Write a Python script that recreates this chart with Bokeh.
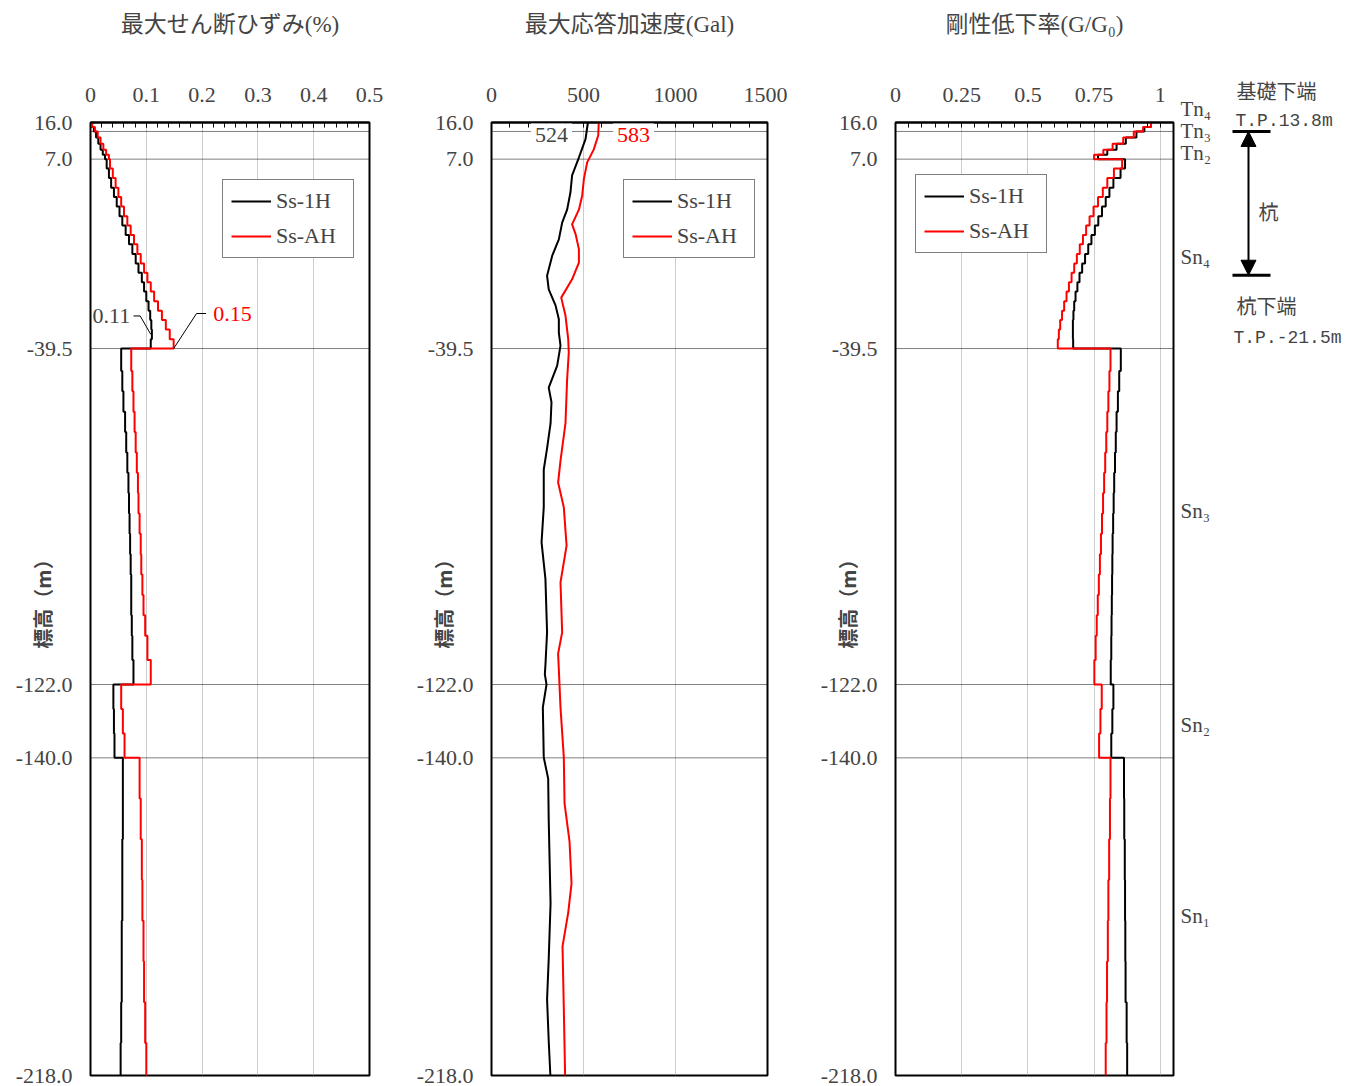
import numpy as np
from bokeh.plotting import figure
from bokeh.layouts import row
from bokeh.models import (Range1d, FixedTicker, CustomJSTickFormatter, Span, Label,
                          Arrow, NormalHead)
from bokeh.embed import file_html
from bokeh.resources import INLINE

# ---------------- data ----------------
# layer boundaries (elevation T.P. m), top -> bottom
layer_bounds = [16.0, 14.9, 13.8, 12.3, 10.8, 9.3, 8.1, 7.0,
                4.7, 2.4, 0.0, -2.3, -4.6, -7.0, -9.3, -11.6, -13.9, -16.3, -18.6,
                -20.9, -23.2, -25.5, -27.9, -30.2, -32.5, -34.8, -37.2, -39.5,
                -45.0, -50.0, -55.0, -60.0, -65.0, -70.0, -75.0, -80.0, -85.0, -90.0,
                -95.0, -100.0, -105.0, -110.0, -116.0, -122.0,
                -128.0, -134.0, -140.0,
                -150.0, -160.0, -170.0, -180.0, -190.0, -200.0, -210.0, -218.0]

# max shear strain (%) per layer
strain_1H = [0.002, 0.006, 0.010, 0.014, 0.018, 0.022, 0.026,
             0.029, 0.033, 0.037, 0.042, 0.047, 0.052, 0.057, 0.063, 0.069, 0.075,
             0.081, 0.086, 0.092, 0.096, 0.100, 0.104, 0.107, 0.109, 0.110, 0.108,
             0.055, 0.057, 0.059, 0.062, 0.064, 0.066, 0.068, 0.069, 0.070, 0.071,
             0.072, 0.073, 0.073, 0.074, 0.075, 0.077,
             0.041, 0.042, 0.043,
             0.058, 0.058, 0.057, 0.057, 0.056, 0.056, 0.055, 0.054]
strain_AH = [0.003, 0.008, 0.013, 0.018, 0.023, 0.028, 0.033,
             0.035, 0.040, 0.045, 0.050, 0.055, 0.060, 0.066, 0.072, 0.078, 0.084,
             0.090, 0.096, 0.102, 0.108, 0.114, 0.121, 0.128, 0.135, 0.142, 0.149,
             0.073, 0.075, 0.077, 0.079, 0.081, 0.083, 0.085, 0.086, 0.088, 0.090,
             0.091, 0.093, 0.095, 0.098, 0.102, 0.108,
             0.055, 0.058, 0.061,
             0.088, 0.090, 0.092, 0.093, 0.095, 0.096, 0.098, 0.100]

# stiffness reduction ratio G/G0 per layer
gg_1H = [0.965, 0.940, 0.910, 0.870, 0.835, 0.800, 0.765,
         0.867, 0.850, 0.823, 0.808, 0.794, 0.780, 0.766, 0.753, 0.740, 0.728,
         0.716, 0.705, 0.695, 0.687, 0.680, 0.675, 0.672, 0.670, 0.670, 0.671,
         0.851, 0.845, 0.840, 0.835, 0.832, 0.829, 0.826, 0.824, 0.822, 0.820,
         0.819, 0.818, 0.817, 0.816, 0.815, 0.813,
         0.823, 0.819, 0.815,
         0.863, 0.864, 0.866, 0.867, 0.868, 0.869, 0.873, 0.875]
gg_AH = [0.965, 0.935, 0.900, 0.860, 0.820, 0.785, 0.750,
         0.856, 0.825, 0.800, 0.783, 0.765, 0.748, 0.733, 0.720, 0.708, 0.696,
         0.685, 0.675, 0.665, 0.655, 0.646, 0.637, 0.629, 0.622, 0.617, 0.613,
         0.812, 0.808, 0.804, 0.800, 0.796, 0.792, 0.788, 0.784, 0.780, 0.776,
         0.772, 0.768, 0.764, 0.760, 0.756, 0.751,
         0.779, 0.774, 0.769,
         0.812, 0.810, 0.807, 0.804, 0.802, 0.799, 0.797, 0.794]

# max response acceleration (Gal) at nodes
acc_elev_1H = [16.0, 11.9, 7.4, 3.0, -1.2, -5.4, -8.6, -12.7, -16.7, -21.6, -25.0, -28.9,
               -32.3, -35.6, -38.8, -43.7, -49.1, -52.7, -57.9, -64.0, -69.2, -78.5, -87.1,
               -96.0, -109.2, -117.3, -119.5, -122.0, -127.6, -139.9, -145.1, -155.4,
               -175.7, -189.3, -199.3, -209.6, -218.0]
acc_1H = [524, 511, 475, 438, 429, 411, 384, 366, 330, 302, 311, 348,
          366, 366, 375, 357, 311, 326, 321, 302, 284, 284, 272,
          293, 302, 293, 290, 299, 279, 284, 308, 311,
          321, 311, 302, 311, 320]
acc_elev_AH = [16.0, 12.8, 9.4, 6.2, 2.1, -1.9, -5.4, -9.0, -11.4, -15.1, -18.4, -22.5,
               -27.0, -31.4, -37.2, -40.5, -47.0, -57.9, -67.0, -72.4, -78.5, -87.9, -96.9,
               -109.2, -114.4, -127.6, -139.9, -151.2, -160.5, -170.8, -178.0, -186.3,
               -201.5, -218.0]
acc_AH = [583, 580, 556, 520, 502, 493, 475, 438, 457, 475, 475, 438,
          379, 402, 417, 420, 411, 402, 375, 362, 393, 408, 375,
          384, 362, 375, 393, 397, 424, 435, 417, 386,
          393, 400]

series_names = ["Ss-1H", "Ss-AH"]
boundary_lines = [13.8, 7.0, -39.5, -122.0, -140.0]
ytick_vals = [16.0, 7.0, -39.5, -122.0, -140.0, -218.0]
titles = ["最大せん断ひずみ(%)", "最大応答加速度(Gal)", "剛性低下率(G/G₀)"]
ylabel = "標高（m）"
layer_names = ["Tn₄", "Tn₃", "Tn₂", "Sn₄", "Sn₃", "Sn₂", "Sn₁"]
layer_label_elev = [19.4, 14.0, 8.4, -17.1, -79.5, -132.0, -178.9]
pile_top, pile_bottom = 13.8, -21.5

# ---------------- styling ----------------
FONT = "Liberation Serif"
JFONT = "'Liberation Serif', 'Noto Sans CJK JP'"
CJK = "Noto Sans CJK JP"
FS = "22px"
Y0, Y1 = -218.0, 16.0
FRAME_H = 953
TOP = 122
BOT = 11
PX_PER_M = FRAME_H / (Y1 - Y0)


def steps(vals):
    xs, ys = [], []
    for i, v in enumerate(vals):
        xs += [v, v]
        ys += [layer_bounds[i], layer_bounds[i + 1]]
    return xs, ys


def make_panel(xmax, major, minor, left, right, fw, title):
    p = figure(x_range=Range1d(0, xmax), y_range=Range1d(Y0, Y1),
               x_axis_location="above", y_axis_location="left",
               frame_width=fw, frame_height=FRAME_H,
               min_border_left=left, min_border_right=right,
               min_border_top=TOP, min_border_bottom=BOT,
               toolbar_location=None, output_backend="svg",
               background_fill_color="white", border_fill_color="white")
    p.outline_line_color = "black"
    p.outline_line_width = 2
    # top axis
    ax = p.xaxis[0]
    ax.ticker = FixedTicker(ticks=major, minor_ticks=minor)
    ax.formatter = CustomJSTickFormatter(code="return String(Math.round(tick*1000)/1000);")
    ax.major_tick_in = 5
    ax.major_tick_out = 0
    ax.minor_tick_in = 5
    ax.minor_tick_out = 0
    ax.axis_line_width = 2
    ax.major_label_text_font = FONT
    ax.major_label_text_font_size = FS
    ax.major_label_standoff = 21
    ax.axis_label = title
    ax.axis_label_text_font = JFONT
    ax.axis_label_text_font_size = "23px"
    ax.axis_label_text_font_style = "normal"
    ax.axis_label_standoff = 48
    # left axis (elevation)
    yax = p.yaxis[0]
    yax.ticker = FixedTicker(ticks=ytick_vals, minor_ticks=[])
    yax.formatter = CustomJSTickFormatter(code="return tick.toFixed(1);")
    yax.axis_line_color = None
    yax.major_tick_line_color = None
    yax.minor_tick_line_color = None
    yax.major_tick_in = 0
    yax.major_tick_out = 0
    yax.major_label_standoff = 18
    yax.major_label_text_font = FONT
    yax.major_label_text_font_size = FS
    yax.axis_label = ylabel
    yax.axis_label_text_font = CJK
    yax.axis_label_text_font_size = "20px"
    yax.axis_label_text_font_style = "bold"
    yax.axis_label_standoff = -44
    # grids
    p.xgrid.ticker = FixedTicker(ticks=major)
    p.xgrid.grid_line_color = "#9a9a9a"
    p.xgrid.grid_line_dash = "1 1"
    p.ygrid.visible = False
    for e in boundary_lines:
        p.add_layout(Span(location=e, dimension="width", line_color="black",
                          line_width=1, line_dash="1 1", level="underlay"))
    return p


def style_legend(p, loc):
    lg = p.legend[0]
    lg.location = loc
    lg.margin = 0
    lg.padding = 8
    lg.spacing = 9
    lg.glyph_width = 40
    lg.glyph_height = 20
    lg.label_height = 20
    lg.label_width = 69
    lg.label_standoff = 5
    lg.label_text_font = FONT
    lg.label_text_font_size = FS
    lg.border_line_color = "black"
    lg.border_line_width = 1
    lg.background_fill_alpha = 1.0


# ---- panel 1: shear strain ----
p1 = make_panel(0.5, [0, 0.1, 0.2, 0.3, 0.4, 0.5],
                [round(v, 2) for v in np.arange(0.02, 0.5, 0.02)],
                90, 20, 279, titles[0])
x, y = steps(strain_1H)
p1.line(x, y, line_color="black", line_width=2, legend_label=series_names[0])
x, y = steps(strain_AH)
p1.line(x, y, line_color="red", line_width=2, legend_label=series_names[1])
style_legend(p1, (132, 817))

m1 = max(strain_1H)
i1 = strain_1H.index(m1)
e1 = (layer_bounds[i1] + layer_bounds[i1 + 1]) / 2
p1.line([m1 - 0.033, m1 - 0.021, m1 - 0.002], [e1 + 4.5, e1 + 4.5, e1],
        line_color="black", line_width=1)
p1.add_layout(Label(x=0, x_offset=2, y=e1 + 4.5, text=f"{m1:.2f}", text_align="left",
                    text_baseline="middle", text_font=FONT, text_font_size=FS))
m2 = max(strain_AH)
i2 = strain_AH.index(m2)
e2 = layer_bounds[i2 + 1]
p1.line([m2, m2 + 0.041, m2 + 0.058], [e2, e2 + 8.6, e2 + 8.6], line_color="black", line_width=1)
p1.add_layout(Label(x=m2 + 0.071, y=e2 + 8.6, text=f"{m2:.2f}", text_align="left",
                    text_baseline="middle", text_font=FONT, text_font_size=FS,
                    text_color="red"))

# ---- panel 2: acceleration ----
p2 = make_panel(1500, [0, 500, 1000, 1500],
                [v for v in range(100, 1500, 100) if v % 500],
                102, 20, 276, titles[1])
p2.line(acc_1H, acc_elev_1H, line_color="black", line_width=2, legend_label=series_names[0])
p2.line(acc_AH, acc_elev_AH, line_color="red", line_width=2, legend_label=series_names[1])
style_legend(p2, (132, 817))
p2.add_layout(Label(x=acc_1H[0] - 198, y=acc_elev_1H[0], y_offset=-1, text=str(acc_1H[0]),
                    text_align="center", text_baseline="top", text_font=FONT,
                    text_font_size=FS, background_fill_color="white", padding=4))
p2.add_layout(Label(x=acc_AH[0] + 189, y=acc_elev_AH[0], y_offset=-1, text=str(acc_AH[0]),
                    text_align="center", text_baseline="top", text_font=FONT,
                    text_font_size=FS, text_color="red", background_fill_color="white",
                    padding=4))

# ---- panel 3: G/G0 ----
p3 = make_panel(1.05, [0, 0.25, 0.5, 0.75, 1],
                [round(v, 2) for v in np.arange(0.05, 1.06, 0.05)
                 if round(v, 2) not in (0.25, 0.5, 0.75, 1.0)],
                108, 2, 278, titles[2])
x, y = steps(gg_1H)
p3.line(x, y, line_color="black", line_width=2, legend_label=series_names[0])
x, y = steps(gg_AH)
p3.line(x, y, line_color="red", line_width=2, legend_label=series_names[1])
style_legend(p3, (20, 822))

# ---- panel 4: layer / pile annotation (frame covers the whole height) ----
p4 = figure(x_range=Range1d(0, 171),
            y_range=Range1d(Y0 - BOT / PX_PER_M, Y1 + TOP / PX_PER_M),
            frame_width=171, frame_height=TOP + FRAME_H + BOT,
            min_border_left=0, min_border_right=0, min_border_top=0, min_border_bottom=0,
            x_axis_location=None, y_axis_location=None,
            toolbar_location=None, output_backend="svg")
p4.frame_align = False
p4.outline_line_color = None
p4.grid.visible = False
for t, e in zip(layer_names, layer_label_elev):
    p4.add_layout(Label(x=5, y=e, text=t, text_align="left", text_baseline="middle",
                        text_font="'Liberation Serif', 'DejaVu Serif'", text_font_size="21px"))
p4.segment(x0=[57, 57], y0=[pile_top, pile_bottom], x1=[95, 95], y1=[pile_top, pile_bottom],
           line_color="black", line_width=3)
p4.add_layout(Arrow(x_start=73, y_start=pile_top, x_end=73, y_end=pile_bottom,
                    line_width=2, line_color="black",
                    start=NormalHead(size=15, fill_color="black", line_color="black"),
                    end=NormalHead(size=15, fill_color="black", line_color="black")))
p4.add_layout(Label(x=61, y=pile_top, y_offset=41, text="基礎下端", text_baseline="middle",
                    text_font=CJK, text_font_size="20px"))
p4.add_layout(Label(x=60, y=pile_top, y_offset=10, text=f"T.P.{pile_top}m",
                    text_baseline="middle", text_font="Liberation Mono", text_font_size="18px"))
p4.add_layout(Label(x=83, y=(pile_top + pile_bottom) / 2, y_offset=-8, text="杭",
                    text_baseline="middle", text_font=CJK, text_font_size="20px"))
p4.add_layout(Label(x=61, y=pile_bottom, y_offset=-30, text="杭下端", text_baseline="middle",
                    text_font=CJK, text_font_size="20px"))
p4.add_layout(Label(x=58, y=pile_bottom, y_offset=-63, text=f"T.P.{pile_bottom}m",
                    text_baseline="middle", text_font="Liberation Mono", text_font_size="18px"))

layout = row(p1, p2, p3, p4, spacing=0)
open("out.html", "w").write(file_html(layout, INLINE))
